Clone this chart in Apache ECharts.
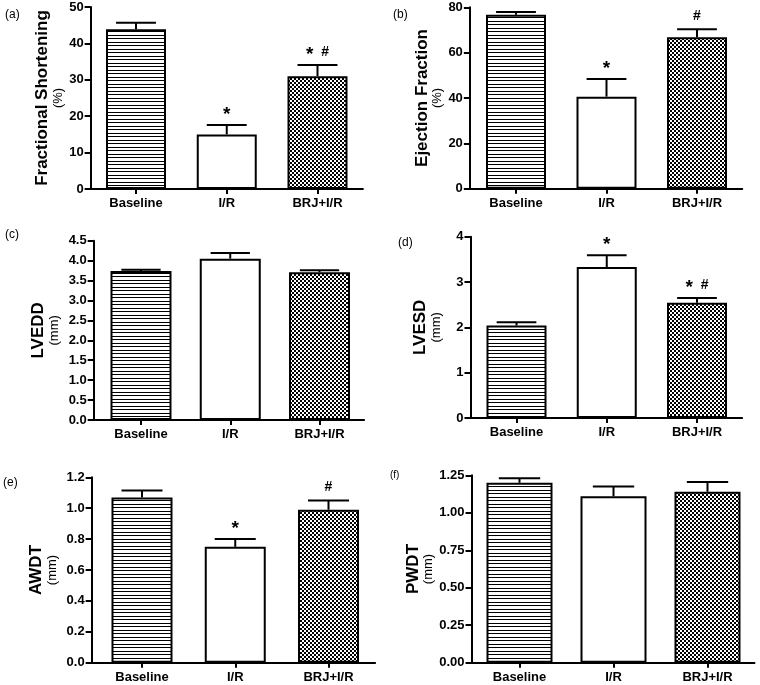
<!DOCTYPE html>
<html><head><meta charset="utf-8">
<script src="https://cdn.jsdelivr.net/npm/echarts@6/dist/echarts.min.js"></script>
<style>html,body{margin:0;padding:0;background:#fff}#c{width:760px;height:685px}</style>
</head><body><div id="c"></div>
<script>
// ---------- data ----------
const categories = ['Baseline', 'I/R', 'BRJ+I/R'];

const fsMean = [43.9, 15.0, 31.0];
const fsErr = [1.8, 2.6, 3.1];
const fsMarks = ['', '*', '* #'];

const efMean = [76.7, 40.6, 66.8];
const efErr = [1.2, 7.8, 3.5];
const efMarks = ['', '*', '#'];

const lveddMean = [3.74, 4.05, 3.71];
const lveddErr = [0.03, 0.14, 0.05];
const lveddMarks = ['', '', ''];

const lvesdMean = [2.04, 3.33, 2.54];
const lvesdErr = [0.07, 0.26, 0.11];
const lvesdMarks = ['', '*', '* #'];

const awdtMean = [1.07, 0.75, 0.99];
const awdtErr = [0.045, 0.05, 0.06];
const awdtMarks = ['', '*', '#'];

const pwdtMean = [1.20, 1.11, 1.14];
const pwdtErr = [0.03, 0.065, 0.065];
const pwdtMarks = ['', '', ''];

// y-axis ticks: [max, interval, decimals]
const fsTicks = [50, 10, 0];
const efTicks = [80, 20, 0];
const lveddTicks = [4.5, 0.5, 1];
const lvesdTicks = [4, 1, 0];
const awdtTicks = [1.2, 0.2, 1];
const pwdtTicks = [1.25, 0.25, 2];

const panelTags = ['(a)', '(b)', '(c)', '(d)', '(e)', '(f)'];
const yTitles = ['Fractional Shortening', 'Ejection Fraction', 'LVEDD', 'LVESD', 'AWDT', 'PWDT'];
const yUnits = ['(%)', '(%)', '(mm)', '(mm)', '(mm)', '(mm)'];

const panels = [
  {mean: fsMean, err: fsErr, marks: fsMarks, ticks: fsTicks},
  {mean: efMean, err: efErr, marks: efMarks, ticks: efTicks},
  {mean: lveddMean, err: lveddErr, marks: lveddMarks, ticks: lveddTicks},
  {mean: lvesdMean, err: lvesdErr, marks: lvesdMarks, ticks: lvesdTicks},
  {mean: awdtMean, err: awdtErr, marks: awdtMarks, ticks: awdtTicks},
  {mean: pwdtMean, err: pwdtErr, marks: pwdtMarks, ticks: pwdtTicks}
];

// ---------- layout (style only) ----------
// c0: pixel centre of first bar, s: pixel spacing of bars, xm: axis start in band units
const layout = [
  {c0: 136, s: 90.75, xm: -0.50, t: 7, b: 189, bw: 0.66, ng: 25, tx: 5, ty: 15, ts: 12},
  {c0: 516, s: 90.5, xm: -0.51, t: 7.3, b: 188.7, bw: 0.66, ng: 24.5, tx: 393, ty: 15, ts: 12},
  {c0: 141, s: 89.25, xm: -0.53, t: 240.7, b: 420, bw: 0.68, ng: 32, tx: 5, ty: 235, ts: 12},
  {c0: 516.5, s: 90.25, xm: -0.51, t: 236.7, b: 418, bw: 0.67, ng: 26.5, tx: 398, ty: 243, ts: 12},
  {c0: 142, s: 93.25, xm: -0.54, t: 477.3, b: 662.7, bw: 0.65, ng: 32, tx: 3, ty: 483, ts: 12},
  {c0: 519.5, s: 94, xm: -0.51, t: 475.3, b: 662.7, bw: 0.70, ng: 34, tx: 390, ty: 475, ts: 10}
];
const X_MAX = 2.5;

const FONT = '"Liberation Sans", Arial, sans-serif';

function makeLines() {
  const c = document.createElement('canvas');
  c.width = 8; c.height = 7;
  const g = c.getContext('2d');
  g.fillStyle = '#fff'; g.fillRect(0, 0, 8, 7);
  g.fillStyle = '#000';
  g.fillRect(0, 0, 8, 1);
  g.fillRect(0, 3, 8, 1);
  return c;
}
function makeChecker() {
  const c = document.createElement('canvas');
  c.width = 4; c.height = 4;
  const g = c.getContext('2d');
  g.fillStyle = '#fff'; g.fillRect(0, 0, 4, 4);
  g.fillStyle = '#000';
  g.fillRect(0, 0, 2, 2);
  g.fillRect(2, 2, 2, 2);
  return c;
}
const fills = [
  {image: makeLines(), repeat: 'repeat'},
  '#ffffff',
  {image: makeChecker(), repeat: 'repeat'}
];

const grid = [], xAxis = [], yAxis = [], series = [], graphic = [];

panels.forEach((p, i) => {
  const L = layout[i];
  const left = L.c0 + L.xm * L.s;
  const right = L.c0 + X_MAX * L.s;
  grid.push({left: left, top: L.t, width: right - left, height: L.b - L.t, containLabel: false});
  xAxis.push({
    type: 'value', gridIndex: i, min: L.xm, max: X_MAX,
    axisLine: {show: true, onZero: false, lineStyle: {color: '#000', width: 2}},
    axisTick: {show: true, customValues: [0, 1, 2], length: 5, lineStyle: {color: '#000', width: 2}},
    axisLabel: {
      customValues: [0, 1, 2], margin: 8,
      formatter: v => categories[Math.round(v)],
      color: '#000', fontFamily: FONT, fontWeight: 'bold', fontSize: 13
    },
    splitLine: {show: false}
  });
  yAxis.push({
    type: 'value', gridIndex: i, min: 0, max: p.ticks[0], interval: p.ticks[1],
    axisLine: {show: true, onZero: false, lineStyle: {color: '#000', width: 2}},
    axisTick: {show: true, length: 6, lineStyle: {color: '#000', width: 2}},
    axisLabel: {
      margin: 7, color: '#000', fontFamily: FONT, fontWeight: 'bold', fontSize: 13,
      formatter: v => v.toFixed(p.ticks[2])
    },
    splitLine: {show: false},
    name: '{b|' + yTitles[i] + '}\n{n|' + yUnits[i] + '}',
    nameLocation: 'middle', nameRotate: 90, nameGap: L.ng,
    nameTextStyle: {
      align: 'center',
      rich: {
        b: {fontFamily: FONT, fontWeight: 'bold', fontSize: 17, lineHeight: 17, color: '#000'},
        n: {fontFamily: FONT, fontWeight: 'normal', fontSize: 13, lineHeight: 15, color: '#000'}
      }
    }
  });
  series.push({
    type: 'bar', xAxisIndex: i, yAxisIndex: i,
    barWidth: Math.round(L.s * L.bw),
    data: p.mean.map((v, j) => ({value: [j, v], itemStyle: {color: fills[j]}})),
    itemStyle: {borderColor: '#000', borderWidth: 2},
    silent: true
  });
  series.push({
    type: 'custom', xAxisIndex: i, yAxisIndex: i, z: 5,
    data: p.mean.map((v, j) => [j, v, p.err[j]]),
    renderItem: (params, api) => {
      const x = api.value(0), y = api.value(1), e = api.value(2);
      const p0 = api.coord([x, y]);
      const p1 = api.coord([x, y + e]);
      const w = api.size([1, 0])[0] * 0.44;
      const children = [
        {type: 'line', shape: {x1: p0[0], y1: p0[1], x2: p1[0], y2: p1[1]}, style: {stroke: '#000', lineWidth: 2}},
        {type: 'line', shape: {x1: p1[0] - w / 2, y1: p1[1], x2: p1[0] + w / 2, y2: p1[1]}, style: {stroke: '#000', lineWidth: 2}}
      ];
      const m = p.marks[params.dataIndex];
      if (m) {
        children.push({
          type: 'text',
          style: {
            text: m.replace(/ /g, '  ').replace(/\*/g, '{s|*}').replace(/#/g, '{h|#}'),
            x: p1[0], y: p1[1] - 13, align: 'center', verticalAlign: 'middle',
            fontFamily: FONT, fontSize: 14, fill: '#000',
            rich: {
              s: {fontFamily: FONT, fontWeight: 'bold', fontSize: 19, fill: '#000', padding: [5, 0, 0, 0]},
              h: {fontFamily: FONT, fontWeight: 'bold', fontSize: 14, fill: '#000'}
            }
          }
        });
      }
      return {type: 'group', children: children};
    },
    silent: true
  });
  graphic.push({
    type: 'text', left: L.tx, top: L.ty - L.ts / 2,
    style: {text: panelTags[i], fontFamily: FONT, fontSize: L.ts, fill: '#000'}
  });
});

const chart = echarts.init(document.getElementById('c'), null, {renderer: 'canvas'});
chart.setOption({
  animation: false,
  backgroundColor: '#fff',
  grid, xAxis, yAxis, series, graphic
});
</script>
</body></html>
